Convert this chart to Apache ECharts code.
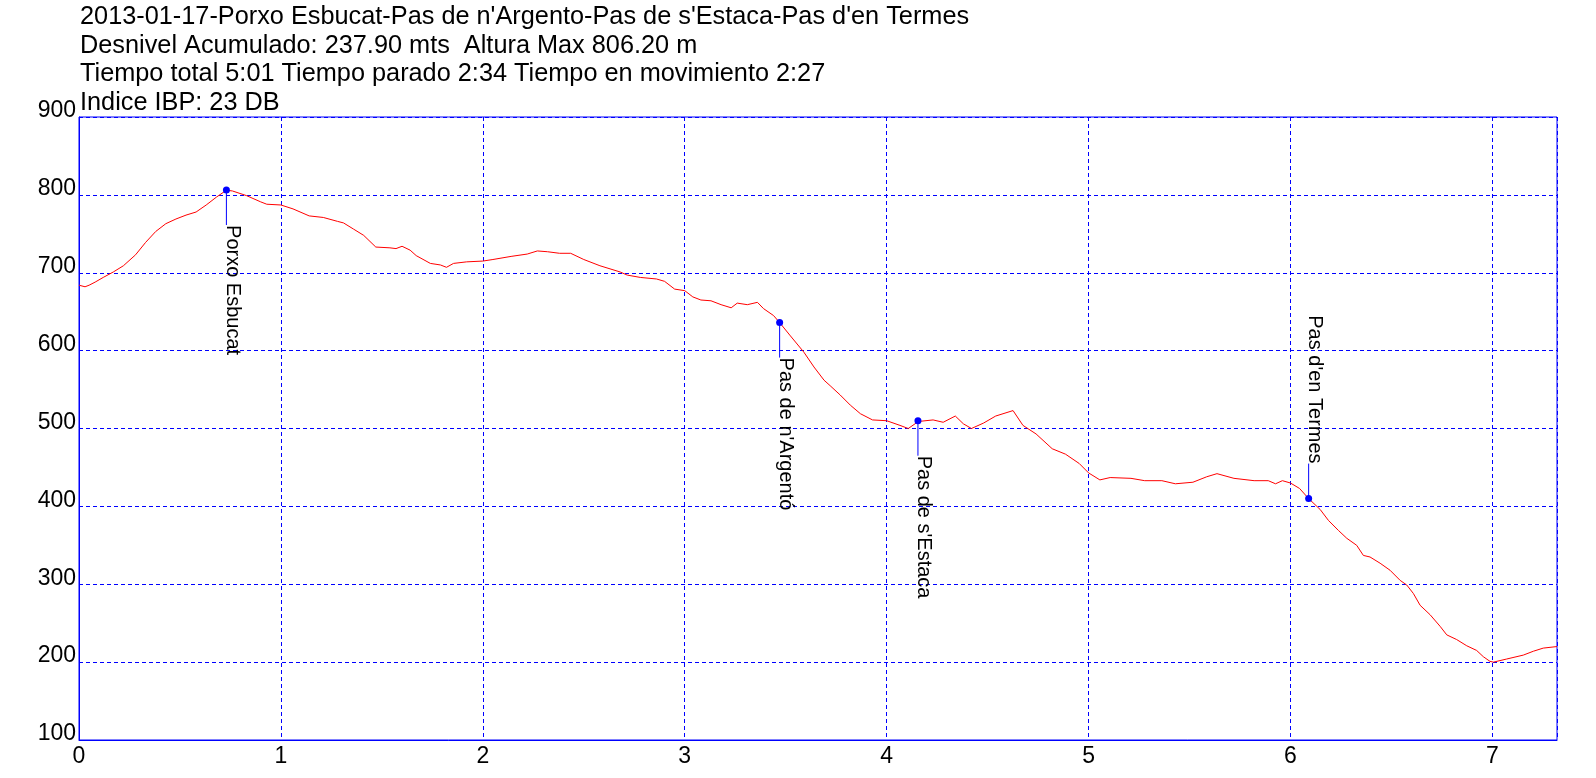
<!DOCTYPE html>
<html>
<head>
<meta charset="utf-8">
<script src="https://cdn.jsdelivr.net/npm/echarts@6/dist/echarts.min.js"></script>
<style>
html,body{margin:0;padding:0;background:#fff;}
#chart{width:1596px;height:778px;}
</style>
</head>
<body>
<div id="chart"></div>
<script>
const titleLines = [
  "2013-01-17-Porxo Esbucat-Pas de n'Argento-Pas de s'Estaca-Pas d'en Termes",
  "Desnivel Acumulado: 237.90 mts  Altura Max 806.20 m",
  "Tiempo total 5:01 Tiempo parado 2:34 Tiempo en movimiento 2:27",
  "Indice IBP: 23 DB"
];

const distance = [0.00,0.03,0.05,0.08,0.12,0.17,0.22,0.28,0.33,0.38,0.43,0.48,0.53,0.58,0.63,0.68,0.73,0.76,0.83,0.90,0.93,1.00,1.06,1.14,1.21,1.28,1.31,1.36,1.41,1.47,1.54,1.57,1.60,1.64,1.67,1.74,1.79,1.82,1.855,1.92,2.00,2.05,2.14,2.22,2.27,2.32,2.38,2.435,2.50,2.58,2.68,2.715,2.78,2.86,2.90,2.95,3.00,3.04,3.08,3.13,3.18,3.23,3.26,3.31,3.36,3.39,3.44,3.47,3.52,3.59,3.64,3.69,3.72,3.77,3.82,3.87,3.93,4.00,4.066,4.107,4.157,4.23,4.28,4.34,4.38,4.42,4.48,4.54,4.626,4.675,4.74,4.82,4.886,4.954,5.00,5.056,5.107,5.21,5.278,5.363,5.43,5.517,5.585,5.636,5.72,5.82,5.89,5.926,5.96,6.00,6.045,6.09,6.147,6.188,6.238,6.279,6.328,6.361,6.394,6.444,6.493,6.543,6.576,6.609,6.642,6.691,6.741,6.774,6.823,6.873,6.922,6.955,6.988,7.005,7.071,7.153,7.203,7.252,7.32];
const elevation = [684,682,684,688,694,701,709,723,739,753,763,769,774,778,787,797,806,805,799,791,788,787,782,773,771,766,764,756,748,733,732,731,734,729,722,712,710,707,712,714,715,717,721,724,728,727,725,725,717,709,701,697,694,692,689,679,677,669,665,664,659,655,661,659,662,654,645,636,620,598,579,562,555,543,530,519,511,510,504,500,509,511,508,516,506,500,507,516,523,504,493,474,467,455,443,434,437,436,433,433,429,431,438,442,436,433,433,429,433,430,423,410,396,382,369,359,350,337,335,327,318,305,299,288,273,261,246,235,229,221,215,207,201,200,204,209,214,218,220];

const waypointNames = ["Porxo Esbucat","Pas de n'Argentó","Pas de s'Estaca","Pas d'en Termes"];
const waypointDist = [0.73,3.47,4.155,6.09];
const waypointElev = [806.2,636,510,410];

const xTicks = [0,1,2,3,4,5,6,7];
const xMax = 7.32;
const yTicks = [100,200,300,400,500,600,700,800,900];

const FONT = "'Liberation Sans', Arial, sans-serif";
const BLUE = '#0000ff';

const chart = echarts.init(document.getElementById('chart'), null, {renderer:'canvas'});

const option = {
  animation: false,
  backgroundColor: '#ffffff',
  title: {
    text: titleLines.join('\n'),
    left: 80,
    top: 3,
    padding: 0,
    textStyle: {fontFamily: FONT, fontSize: 25.3, fontWeight: 'normal', color: '#000', lineHeight: 28.6}
  },
  grid: {left: 79, top: 117, right: 39, bottom: 38, show: true, borderColor: BLUE, borderWidth: 1, backgroundColor: 'transparent'},
  xAxis: {
    type: 'value', min: xTicks[0], max: xMax, interval: 1,
    axisLine: {show: true, onZero: false, lineStyle: {color: BLUE, width: 1}},
    axisTick: {show: false},
    axisLabel: {color: '#000', fontFamily: FONT, fontSize: 23, margin: 5, showMaxLabel: false},
    splitLine: {show: true, lineStyle: {color: BLUE, type: [4,3], width: 1}}
  },
  yAxis: {
    type: 'value', min: yTicks[0], max: yTicks[yTicks.length-1], interval: 100,
    axisLine: {show: true, onZero: false, lineStyle: {color: BLUE, width: 1}},
    axisTick: {show: false},
    axisLabel: {color: '#000', fontFamily: FONT, fontSize: 23, margin: 3, verticalAlign: 'bottom', lineHeight: 12},
    splitLine: {show: true, lineStyle: {color: BLUE, type: [4,3], width: 1}}
  },
  series: [
    {
      type: 'line',
      data: distance.map((d, i) => [d, elevation[i]]),
      showSymbol: false,
      lineStyle: {color: '#ff0000', width: 1},
      itemStyle: {color: '#ff0000'},
      z: 2
    },
    {
      type: 'custom',
      data: waypointDist.map((d, i) => [d, waypointElev[i], i]),
      z: 3,
      renderItem: function (params, api) {
        const p = api.coord([api.value(0), api.value(1)]);
        const idx = api.value(2);
        const up = idx === 3;
        const len = 35;
        const y2 = up ? p[1] - len : p[1] + len;
        return {
          type: 'group',
          children: [
            {type: 'line', shape: {x1: p[0], y1: p[1], x2: p[0], y2: y2}, style: {stroke: BLUE, lineWidth: 1}},
            {type: 'circle', shape: {cx: p[0], cy: p[1], r: 3.5}, style: {fill: BLUE}},
            {type: 'text', x: p[0] + 6, y: y2, rotation: -Math.PI / 2,
             style: {text: waypointNames[idx], fontFamily: FONT, fontSize: 20, fill: '#000',
                     align: up ? 'right' : 'left', verticalAlign: 'middle'}}
          ]
        };
      }
    }
  ]
};
chart.setOption(option);
</script>
</body>
</html>
